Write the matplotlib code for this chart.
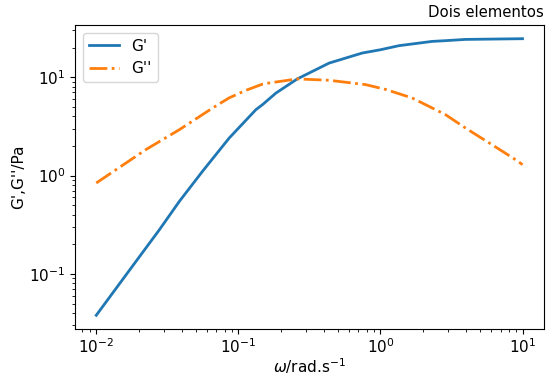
import numpy as np
import matplotlib; matplotlib.use("Agg")
import matplotlib.pyplot as plt

# values (log-log)
w_gp = [0.01, 0.0191, 0.0279, 0.0385, 0.0561, 0.0863, 0.133, 0.148, 0.184,
        0.26, 0.435, 0.745, 1.0, 1.35, 2.31, 2.87, 3.96, 10.0]
gp = [0.038, 0.135, 0.283, 0.548, 1.11, 2.41, 4.68, 5.26, 6.9,
      9.6, 13.9, 17.6, 19.0, 20.9, 23.1, 23.5, 24.2, 24.6]

w_gpp = [0.01, 0.0224, 0.0385, 0.0659, 0.086, 0.113, 0.148, 0.165, 0.26,
         0.435, 0.787, 1.09, 1.67, 2.87, 3.96, 4.92, 6.10, 9.14, 10.0]
gpp = [0.84, 1.84, 2.93, 4.86, 6.15, 7.35, 8.5, 8.73, 9.6,
       9.3, 8.4, 7.5, 6.15, 4.16, 3.05, 2.5, 2.06, 1.42, 1.29]

fig, ax = plt.subplots(figsize=(5.51, 3.77), dpi=100)
fig.subplots_adjust(left=0.136, right=0.987, top=0.934, bottom=0.127)
ax.plot(w_gp, gp, "C0", lw=2, label="G'")
ax.plot(w_gpp, gpp, "C1", ls="-.", lw=2, label="G''")
ax.set_xscale("log"); ax.set_yscale("log")
ax.tick_params(labelsize=11)
ax.tick_params(axis="x", pad=2.5)
ax.set_xlabel(r"$\omega$/rad.s$^{-1}$", fontsize=11, labelpad=0)
ax.set_ylabel("G',G''/Pa", fontsize=11, labelpad=2)
ax.set_title("Dois elementos", loc="right", fontsize=10.7)
ax.legend(loc="upper left", fontsize=11)
fig.savefig("out.png", dpi=100)
